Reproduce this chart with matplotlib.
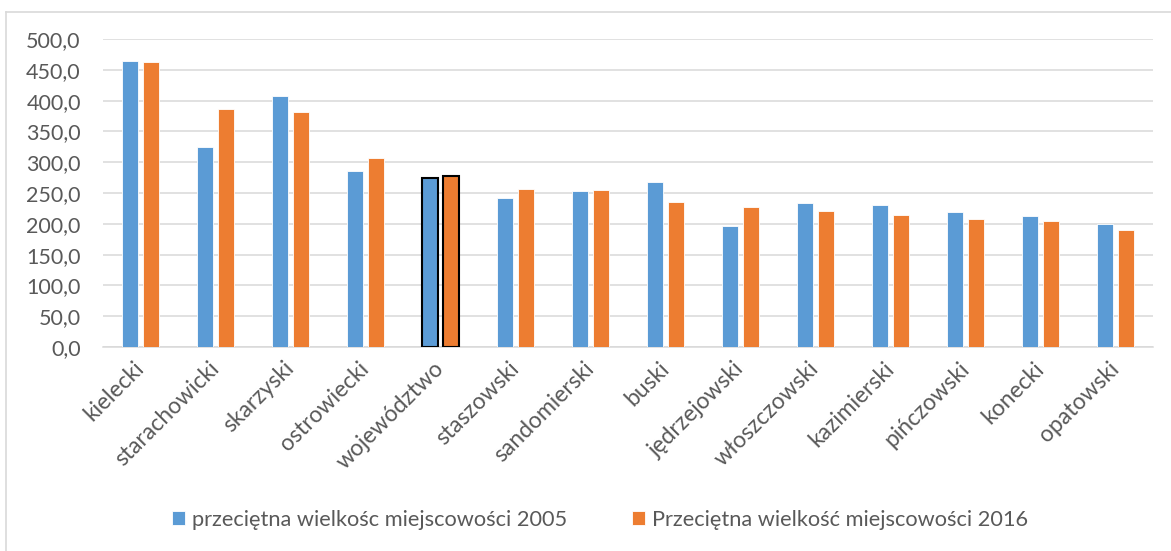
import matplotlib
matplotlib.use("Agg")
import matplotlib.pyplot as plt
import numpy as np
from matplotlib.lines import Line2D

plt.rcParams['font.family'] = ['Lato', 'DejaVu Sans']

powiaty = ["kielecki", "starachowicki", "skarzyski", "ostrowiecki", "województwo",
           "staszowski", "sandomierski", "buski", "jędrzejowski", "włoszczowski",
           "kazimierski", "pińczowski", "konecki", "opatowski"]
wielkosc_2005 = [465, 324, 408, 285, 275, 242, 253, 268, 197, 233, 230, 219, 212, 199]
wielkosc_2016 = [462, 386, 382, 307, 278, 257, 255, 235, 228, 221, 215, 207, 205, 190]
seria_2005 = "przeciętna wielkośc miejscowości 2005"
seria_2016 = "Przeciętna wielkość miejscowości 2016"

blue = "#5B9BD5"
orange = "#ED7D31"
txt = "#595959"
grid = "#D9D9D9"

fig = plt.figure(figsize=(11.71, 5.51), dpi=100)
ax = fig.add_axes([103/1171, 1 - 347/551, 1050/1171, 308/551])

x = np.arange(len(powiaty))
w = 0.22
edges = ["black" if p == "województwo" else "white" for p in powiaty]
lws = [1.5 if p == "województwo" else 0.6 for p in powiaty]
ax.bar(x - 0.14, wielkosc_2005, w, color=blue, edgecolor=edges, linewidth=lws,
       label=seria_2005, zorder=3)
ax.bar(x + 0.14, wielkosc_2016, w, color=orange, edgecolor=edges, linewidth=lws,
       label=seria_2016, zorder=3)

ax.set_xlim(-0.5, len(powiaty) - 0.5)
ax.set_ylim(0, 500)
ax.set_yticks(np.arange(0, 501, 50))
ax.set_yticklabels([f"{v:.1f}".replace(".", ",") for v in np.arange(0, 501, 50)])
ax.yaxis.grid(True, color=grid, linewidth=1.1, zorder=0)
ax.set_axisbelow(True)
for s in ["top", "right", "left"]:
    ax.spines[s].set_visible(False)
ax.spines["bottom"].set_color(grid)
ax.spines["bottom"].set_linewidth(1.1)
ax.tick_params(axis="y", length=0, pad=16, labelsize=15.5, labelcolor=txt)
ax.tick_params(axis="x", length=0, pad=13, labelsize=16.5, labelcolor=txt)
ax.set_xticks(x)
ax.set_xticklabels(powiaty, rotation=45, ha="right", va="center", rotation_mode="anchor")

fig.legend(loc="center", bbox_to_anchor=(600/1171, 1 - 520/551), ncol=2, frameon=False,
           fontsize=15.7, labelcolor=txt, handlelength=0.6, handleheight=0.6,
           handletextpad=0.3, columnspacing=3.0)

# ramka wykresu
fig.add_artist(Line2D([6/1171, 6/1171], [0, 1 - 12/551], transform=fig.transFigure,
                      color=grid, linewidth=1.2))
fig.add_artist(Line2D([6/1171, 1], [1 - 12/551, 1 - 12/551], transform=fig.transFigure,
                      color=grid, linewidth=1.2))

fig.savefig("out.png", dpi=100)
